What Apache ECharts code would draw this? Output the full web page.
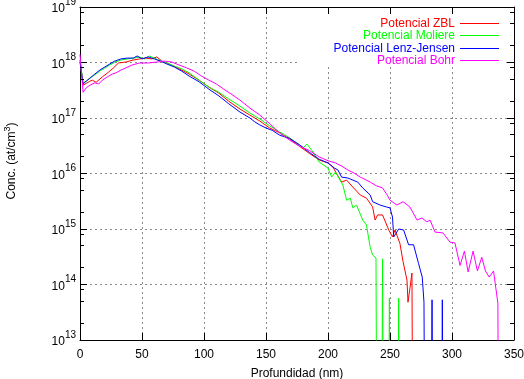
<!DOCTYPE html>
<html><head><meta charset="utf-8">
<script src="https://cdn.jsdelivr.net/npm/echarts@6/dist/echarts.min.js"></script>
<style>html,body{margin:0;padding:0;background:#fff}#c{width:524px;height:379px}</style>
</head><body><div id="c"></div>
<script>
// ---- data (depth in nm, concentration in at/cm^3) ----
const seriesNames = ['Potencial ZBL', 'Potencial Moliere', 'Potencial Lenz-Jensen', 'Potencial Bohr'];
const seriesColors = ['#ff0000', '#00ff00', '#0000ff', '#ff00ff'];

const depthZBL = [0, 2.5, 5, 8, 10, 13, 18, 23, 27, 31, 37, 43, 48, 53, 58, 62, 66, 72, 80, 88, 96, 104, 112, 120, 129, 137, 145, 153, 161, 169, 177, 185, 193, 200, 204, 207, 211, 215, 220, 226, 231, 236, 238, 240, 244, 249, 252, 254, 258, 260.5, 263.7, 264.5, 266.1, 267.7, 270.4];
const concZBL = [1.1e18, 3.9e17, 4.2e17, 4.6e17, 4.8e17, 4.4e17, 5.5e17, 6.7e17, 8.0e17, 9.8e17, 1.02e18, 1.11e18, 1.16e18, 1.2e18, 1.16e18, 1.26e18, 1.06e18, 9.4e17, 7.7e17, 6.2e17, 4.8e17, 3.6e17, 2.8e17, 2.0e17, 1.45e17, 1.13e17, 8.8e16, 6.6e16, 5.4e16, 4.2e16, 3.1e16, 2.3e16, 1.75e16, 1.55e16, 1.3e16, 9.9e15, 7.0e15, 7.6e15, 5.7e15, 4.1e15, 3.6e15, 2.5e15, 1.45e15, 1.79e15, 1.79e15, 9.6e14, 7.2e14, 9.6e14, 5.5e14, 2.6e14, 1.2e14, 4.8e13, 8.6e13, 1.61e14, 1];

const depthMoliere = [0, 2.5, 5, 8, 12, 16, 20, 24, 28, 33, 38, 43, 48, 52, 56, 60, 65, 70, 76, 82, 88, 96, 104, 112, 120, 129, 137, 145, 153, 161, 169, 175, 180, 183, 187, 193, 200, 203, 206, 212, 215, 218, 220, 223, 228, 231, 234, 236, 238.7, 241.4, 244, 246.7, 249.5, 252.2, 254.5, 257, 259.7];
const concMoliere = [1.1e18, 4.3e17, 4.6e17, 5.3e17, 6.0e17, 7.0e17, 8.0e17, 9.0e17, 1.02e18, 1.11e18, 1.16e18, 1.2e18, 1.26e18, 1.16e18, 1.31e18, 1.2e18, 1.06e18, 9.8e17, 8.6e17, 7.7e17, 6.5e17, 4.8e17, 3.6e17, 2.9e17, 2.2e17, 1.64e17, 1.23e17, 9.6e16, 7.2e16, 5.6e16, 4.4e16, 3.5e16, 2.9e16, 3.4e16, 2.6e16, 1.6e16, 1.25e16, 8.6e15, 1.06e16, 6.2e15, 3.3e15, 3.6e15, 2.4e15, 2.7e15, 1.45e15, 1.18e15, 4.7e14, 3.4e14, 3.0e14, 1, 2.9e14, 1, 5.7e13, 1, 1, 5.7e13, 1];

const depthLenzJensen = [0, 2.5, 5, 8, 12, 16, 20, 24, 28, 33, 38, 43, 46, 50, 55, 60, 65, 70, 76, 82, 88, 96, 104, 112, 120, 129, 137, 141, 145, 150, 155, 161, 169, 177, 185, 193, 200, 205, 208, 211, 216, 224, 228, 234, 236, 242, 247, 250, 252, 253, 257, 261, 265, 269, 273, 276, 277.4, 280.6, 283.9, 287.1, 289.5, 292.2, 295.4];
const concLenzJensen = [1.02e18, 4.1e17, 4.6e17, 5.2e17, 6.2e17, 7.3e17, 8.3e17, 9.4e17, 1.06e18, 1.16e18, 1.2e18, 1.2e18, 1.31e18, 1.16e18, 1.26e18, 1.16e18, 1.06e18, 9.4e17, 8.3e17, 7.0e17, 5.7e17, 4.5e17, 3.3e17, 2.5e17, 1.8e17, 1.28e17, 1.0e17, 8.5e16, 7.5e16, 6.6e16, 6.0e16, 4.9e16, 4.3e16, 3.3e16, 2.4e16, 1.8e16, 1.55e16, 1.26e16, 1.16e16, 8.6e15, 8.3e15, 7.0e15, 5.5e15, 4.1e15, 3.1e15, 2.7e15, 2.5e15, 2.4e15, 1.64e15, 7.2e14, 1.0e15, 9.6e14, 5.2e14, 5.2e14, 2.4e14, 1.36e14, 4.8e13, 1, 5.3e13, 1, 1, 5.3e13, 1];

const depthBohr = [0, 2.5, 5, 8, 12, 15, 18, 22, 26, 29, 33, 37, 42, 48, 55, 62, 68, 74, 80, 86, 92, 98, 104, 110, 116, 122, 129, 137, 145, 153, 161, 169, 177, 185, 193, 200, 206, 211, 216, 221, 226, 229, 234, 239, 244, 248, 250, 255.6, 260.5, 266, 271.8, 275.8, 279.8, 282.3, 286.3, 292.7, 298.4, 302.4, 306.5, 310, 313, 317, 320.5, 324, 327, 330, 333.5, 337, 339.5];
const concBohr = [1.4e18, 2.9e17, 3.5e17, 3.9e17, 4.3e17, 4.1e17, 4.8e17, 5.5e17, 6.2e17, 6.5e17, 7.3e17, 8.0e17, 9.0e17, 9.8e17, 9.8e17, 1.02e18, 1.06e18, 1.02e18, 9.0e17, 8.0e17, 7.0e17, 5.7e17, 4.8e17, 4.1e17, 3.3e17, 2.7e17, 2.1e17, 1.51e17, 1.13e17, 7.9e16, 5.4e16, 4.0e16, 3.1e16, 2.6e16, 1.98e16, 1.7e16, 1.55e16, 1.36e16, 1.16e16, 1.02e16, 8.6e15, 8.0e15, 7.0e15, 6.0e15, 5.5e15, 4.0e15, 3.3e15, 2.7e15, 3.1e15, 2.5e15, 1.45e15, 1.58e15, 1.34e15, 1.45e15, 8.8e14, 8.5e14, 5.8e14, 5.6e14, 2.2e14, 4.0e14, 1.68e14, 4.0e14, 1.75e14, 3.1e14, 1.75e14, 1.36e14, 1.75e14, 4.6e13, 1];

const xTicks = [0, 50, 100, 150, 200, 250, 300, 350];
const yMin = 1e13, yMax = 1e19;
const minorTickValues = [2e13, 5e13, 8e13, 2e14, 5e14, 8e14, 2e15, 5e15, 8e15, 2e16, 5e16, 8e16, 2e17, 5e17, 8e17, 2e18, 5e18, 8e18];

// ---- chart ----
const font = '"Liberation Sans", Arial, Helvetica, sans-serif';
const chart = echarts.init(document.getElementById('c'), null, {renderer: 'canvas'});
const pairs = (d, c) => d.map((x, i) => [x, c[i]]);
const allDepth = [depthZBL, depthMoliere, depthLenzJensen, depthBohr];
const allConc = [concZBL, concMoliere, concLenzJensen, concBohr];

const gridStyle = {color: '#8a8a8a', width: 1, type: [2, 3]};
const axisLineStyle = {color: '#000', width: 1};

const lineSeries = seriesNames.map((name, i) => ({
  type: 'line', name, data: pairs(allDepth[i], allConc[i]),
  symbol: 'none', showSymbol: false, smooth: false, clip: true,
  lineStyle: {color: seriesColors[i], width: 1}, itemStyle: {color: seriesColors[i]},
  z: 3 + i, silent: true
}));

const legends = seriesNames.map((name, i) => ({
  orient: 'vertical', right: 25, top: 17.5 + Math.round(i * 12.3), align: 'right', padding: 0,
  icon: 'rect', itemWidth: 39, itemHeight: 1, itemGap: 0, selectedMode: false,
  itemStyle: {color: seriesColors[i], borderWidth: 0},
  textStyle: {fontSize: 12, fontFamily: font, lineHeight: 12, color: seriesColors[i]},
  data: [name]
}));

const option = {
  animation: false,
  backgroundColor: '#fff',
  textStyle: {fontFamily: font},
  grid: {left: 80, right: 10, top: 7, bottom: 39, containLabel: false, outerBoundsMode: 'none'},
  legend: legends,
  xAxis: [{
    type: 'value', min: xTicks[0], max: xTicks[xTicks.length - 1], interval: 50, position: 'bottom',
    axisLine: {onZero: false, lineStyle: axisLineStyle},
    axisTick: {inside: true, length: 7, lineStyle: {color: '#000'}},
    axisLabel: {margin: 9, color: '#000', fontSize: 12, fontFamily: font},
    splitLine: {show: true, lineStyle: gridStyle},
    name: 'Profundidad (nm)', nameLocation: 'middle', nameGap: 28,
    nameTextStyle: {color: '#000', fontSize: 12, fontFamily: font}
  }, {
    type: 'value', min: xTicks[0], max: xTicks[xTicks.length - 1], interval: 50, position: 'top',
    axisLine: {onZero: false, lineStyle: axisLineStyle},
    axisTick: {inside: true, length: 7, lineStyle: {color: '#000'}},
    axisLabel: {show: false}, splitLine: {show: false}
  }],
  yAxis: [{
    type: 'log', logBase: 10, min: yMin, max: yMax, splitNumber: 6, position: 'left',
    axisLine: {onZero: false, lineStyle: axisLineStyle},
    axisTick: {inside: true, length: 7, lineStyle: {color: '#000'}},
    axisLabel: {
      margin: 4, color: '#000',
      formatter: v => '{b|10}{s|' + Math.round(Math.log10(v)) + '}',
      rich: {
        b: {fontSize: 12, fontFamily: font, color: '#000', verticalAlign: 'bottom', padding: [0, 0, 2, 0]},
        s: {fontSize: 10, fontFamily: font, color: '#000', verticalAlign: 'bottom', padding: [0, 0, 10, 0]}
      }
    },
    splitLine: {show: true, lineStyle: gridStyle}
  }, {
    type: 'log', logBase: 10, min: yMin, max: yMax, splitNumber: 6, position: 'right',
    axisLine: {onZero: false, lineStyle: axisLineStyle},
    axisTick: {inside: true, length: 7, lineStyle: {color: '#000'}},
    axisLabel: {show: false}, splitLine: {show: false}
  }],
  graphic: [{
    type: 'rect', shape: {x: 298, y: 15, width: 208, height: 51},
    style: {fill: '#fff'}, z: 1, silent: true
  }, {
    type: 'text', x: 12, y: 161, rotation: Math.PI / 2,
    style: {
      text: 'Conc. (at/cm{s|3})', fontSize: 12, fontFamily: font, fill: '#000',
      align: 'center', verticalAlign: 'middle',
      rich: {s: {fontSize: 9, fontFamily: font, fill: '#000', verticalAlign: 'bottom', padding: [0, 0, 8, 0]}}
    }, z: 10, silent: true
  }],
  series: [
    ...lineSeries,
    {
      type: 'custom', name: 'minorTicks', silent: true, z: 10, clip: false,
      data: minorTickValues.map(v => [0, v]),
      renderItem: (params, api) => {
        const v = api.value(1);
        const pL = api.coord([xTicks[0], v]);
        const pR = api.coord([xTicks[xTicks.length - 1], v]);
        const y = Math.round(pL[1] - 0.5) + 0.5;
        const xl = Math.round(pL[0]), xr = Math.round(pR[0]);
        return {type: 'group', children: [
          {type: 'line', shape: {x1: xl, y1: y, x2: xl + 4, y2: y}, style: {stroke: '#000', lineWidth: 1}},
          {type: 'line', shape: {x1: xr - 4, y1: y, x2: xr, y2: y}, style: {stroke: '#000', lineWidth: 1}}
        ]};
      }
    }
  ]
};
chart.setOption(option);
</script>
</body></html>
